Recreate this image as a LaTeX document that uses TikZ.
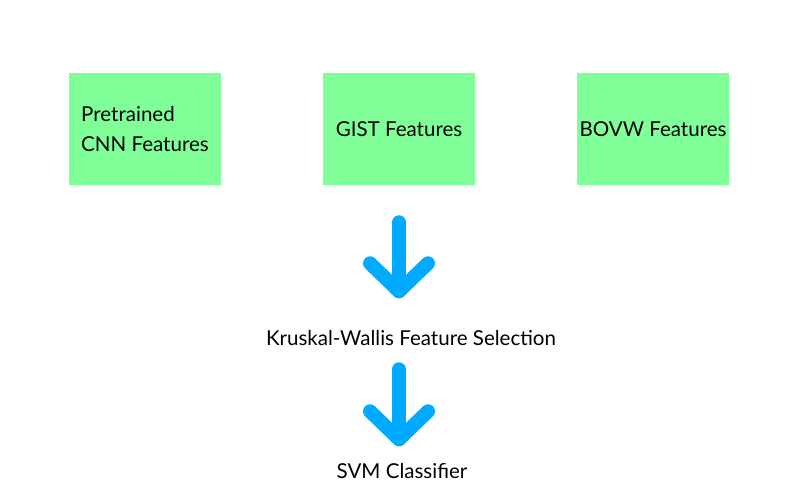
\documentclass[tikz,border=0pt]{standalone}
\usepackage{fontspec}
\setmainfont{Lato}
\usepackage{xcolor}
\usepackage{tikz}
\usetikzlibrary{calc,positioning}

\definecolor{boxgreen}{RGB}{128,255,152}
\definecolor{flowblue}{RGB}{0,170,255}

\tikzset{
  featbox/.style={fill=boxgreen, minimum width=152*0.025cm, minimum height=112*0.025cm, align=left, inner sep=0pt},
  flow/.style={draw=flowblue, line width=14*0.025cm, line cap=round, line join=round},
  lbl/.style={inner sep=0pt}
}

\begin{document}
\begin{tikzpicture}[x=0.025cm, y=-0.025cm, font=\fontsize{14.6}{22}\selectfont]
\useasboundingbox[fill=white] (0,0) rectangle (800,500);
% feature boxes
\node[featbox] (cnn) at (145,129) {Pretrained\\CNN Features};
\node[featbox] (gist) at (399,129) {GIST Features};
\node[featbox] (bovw) at (653,129) {BOVW Features};
% stages
\node[lbl] (kw) at (411,338) {Kruskal-Wallis Feature Selection};
\node[lbl] (svm) at (402,471) {SVM Classifier};
% arrows
\coordinate (a1) at ($(gist.south)+(0,37)$);
\coordinate (t1) at ($(gist.south)+(0,106)$);
\coordinate (a2) at ($(gist.south)+(0,184)$);
\coordinate (t2) at ($(gist.south)+(0,254)$);
\draw[flow] (a1) -- (t1);
\draw[flow] ($(t1)+(-29,-28)$) -- (t1) -- ($(t1)+(29,-28)$);
\draw[flow] (a2) -- (t2);
\draw[flow] ($(t2)+(-29,-28)$) -- (t2) -- ($(t2)+(29,-28)$);
\end{tikzpicture}
\end{document}
